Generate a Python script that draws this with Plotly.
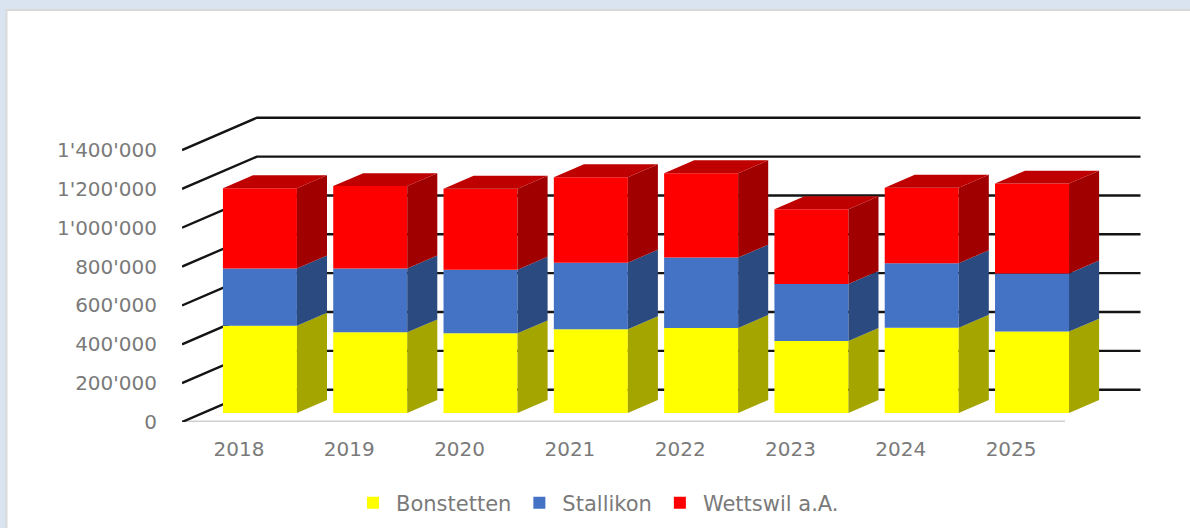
import plotly.graph_objects as go

years = ["2018", "2019", "2020", "2021", "2022", "2023", "2024", "2025"]
bonstetten = [449000, 415000, 410000, 431000, 438000, 371000, 439000, 419000]
stallikon = [295000, 329000, 327000, 343000, 362000, 293000, 332000, 299000]
wettswil = [413000, 424000, 417000, 440000, 434000, 385000, 389000, 463000]
tick_values = [0, 200000, 400000, 600000, 800000, 1000000, 1200000, 1400000]
tick_labels = ["0", "200'000", "400'000", "600'000", "800'000", "1'000'000", "1'200'000", "1'400'000"]

W, H = 1190, 528
ML, MB = 182, 106
PW, PH = W - ML, H - MB
PX_PER_CAT = 110.3
VAL_PER_PX = 200000 / 38.85
X0 = -57 / PX_PER_CAT
xrange_ = [X0, X0 + PW / PX_PER_CAT]
yrange_ = [0, PH * VAL_PER_PX]

# oblique projection: depth 0 = front plane, depth 1 = back wall
DEPTH_DX = 75 / PX_PER_CAT
DEPTH_DV = 32.3 * VAL_PER_PX
BAR_FRONT, BAR_BACK = 0.279, 0.68
BAR_W = 74 / PX_PER_CAT


def proj(x, v, d):
    return x + d * DEPTH_DX, v + d * DEPTH_DV


fig = go.Figure()

# back wall + floor/side diagonals
gx, gy = [], []
for v in tick_values:
    a = proj(X0, v, 0)
    b = proj(X0, v, 1)
    gx += [a[0], b[0], X0 + (1140.5 - ML) / PX_PER_CAT, None]
    gy += [a[1], b[1], b[1], None]

# front category axis line
fig.add_trace(go.Scatter(x=[X0, X0 + (1065 - ML) / PX_PER_CAT], y=[0, 0], mode="lines",
                         line=dict(color="#CFCFCF", width=3), showlegend=False, hoverinfo="skip"))
fig.add_trace(go.Scatter(x=gx, y=gy, mode="lines", line=dict(color="#141414", width=2.4),
                         showlegend=False, hoverinfo="skip"))

series = [
    ("Bonstetten", bonstetten, "#FFFF00", "#A5A500"),
    ("Stallikon", stallikon, "#4472C4", "#2A4A80"),
    ("Wettswil a.A.", wettswil, "#FF0000", "#A00000"),
]
cum = [0.0] * len(years)
for name, vals, col, side in series:
    xs = [i + BAR_FRONT * DEPTH_DX for i in range(len(years))]
    bases = [c + BAR_FRONT * DEPTH_DV for c in cum]
    fig.add_trace(go.Bar(x=xs, y=vals, base=bases, width=BAR_W, name=name,
                         marker=dict(color=col, line=dict(width=0)),
                         xaxis="x2", yaxis="y2"))
    sx, sy = [], []
    for i, v in enumerate(vals):
        right = i + BAR_W / 2
        p1 = proj(right, cum[i], BAR_FRONT)
        p2 = proj(right, cum[i], BAR_BACK)
        p3 = proj(right, cum[i] + v, BAR_BACK)
        p4 = proj(right, cum[i] + v, BAR_FRONT)
        sx += [p1[0], p2[0], p3[0], p4[0], p1[0], None]
        sy += [p1[1], p2[1], p3[1], p4[1], p1[1], None]
    fig.add_trace(go.Scatter(x=sx, y=sy, mode="lines", fill="toself", fillcolor=side,
                             line=dict(width=0, color=side), showlegend=False, hoverinfo="skip",
                             xaxis="x2", yaxis="y2"))
    cum = [c + v for c, v in zip(cum, vals)]

# top faces
tx, ty = [], []
for i, c in enumerate(cum):
    l, r = i - BAR_W / 2, i + BAR_W / 2
    pts = [proj(l, c, BAR_FRONT), proj(r, c, BAR_FRONT), proj(r, c, BAR_BACK), proj(l, c, BAR_BACK), proj(l, c, BAR_FRONT)]
    tx += [p[0] for p in pts] + [None]
    ty += [p[1] for p in pts] + [None]
fig.add_trace(go.Scatter(x=tx, y=ty, mode="lines", fill="toself", fillcolor="#BE0000",
                         line=dict(width=0, color="#BE0000"), showlegend=False, hoverinfo="skip",
                         xaxis="x2", yaxis="y2"))

font = dict(family="DejaVu Sans", size=20, color="#7A7A7A")
legend_font = dict(family="DejaVu Sans", size=21, color="#7A7A7A")
fig.update_layout(
    width=W, height=H,
    margin=dict(l=ML, r=0, t=0, b=MB, pad=0),
    paper_bgcolor="#DAE3F0",
    plot_bgcolor="rgba(0,0,0,0)",
    barmode="overlay",
    font=font,
    xaxis=dict(range=xrange_, tickmode="array", tickvals=list(range(len(years))), ticktext=years,
               showgrid=False, zeroline=False, showline=False, ticks="", tickfont=font,
               ticklabelstandoff=13, tickangle=0),
    yaxis=dict(range=yrange_, tickmode="array", tickvals=tick_values, ticktext=tick_labels,
               showgrid=False, zeroline=False, showline=False, ticks="", tickfont=font,
               ticklabelstandoff=24),
    xaxis2=dict(range=xrange_, overlaying="x", visible=False),
    yaxis2=dict(range=yrange_, overlaying="y", visible=False),
    legend=dict(orientation="h", xanchor="left", yanchor="middle", itemwidth=36,
                x=(350 - ML) / PW, y=(PH - 503) / PH, font=legend_font, bgcolor="rgba(0,0,0,0)"),
    shapes=[dict(type="rect", xref="paper", yref="paper", layer="below",
                 x0=(6.5 - ML) / PW, x1=1.01, y0=-0.4, y1=(PH - 10) / PH,
                 fillcolor="#FFFFFF", line=dict(color="#DADADA", width=2))],
)

fig.write_html("out.html", config={"displayModeBar": False},
               post_script="document.body.style.margin='0';document.body.style.overflow='hidden';")
